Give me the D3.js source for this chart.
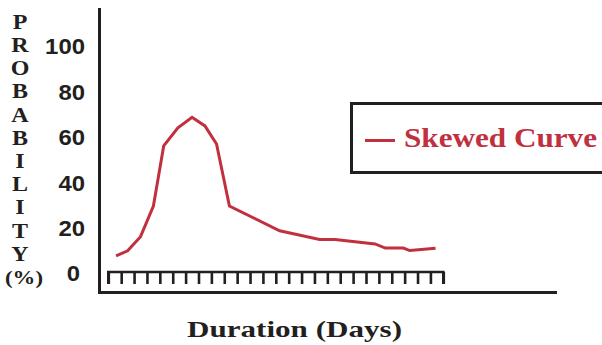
<!DOCTYPE html>
<html>
<head>
<meta charset="utf-8">
<script src="https://cdn.jsdelivr.net/npm/d3@7"></script>
<style>
  html, body { margin: 0; padding: 0; background: #fff; }
  svg { display: block; }
</style>
</head>
<body>
<svg id="chart" width="602" height="345"></svg>
<script>
// ---- data ----
const days = [0.6, 1.5, 2.5, 3.5, 4.3, 5.4, 6.5, 7.5, 8.4, 9.4, 13.3, 16.4, 17.6, 20.7, 21.5, 22.9, 23.4, 25.4];
const probability = [7.5, 9.8, 16, 29.5, 56, 64, 68.6, 64.8, 56.8, 29.5, 18.6, 14.8, 14.8, 12.8, 11, 11, 9.9, 10.9];
const yTicks = [0, 20, 40, 60, 80, 100];
const xTickCount = 27;
const seriesName = "Skewed Curve";
const yTitleLetters = ["P", "R", "O", "B", "A", "B", "I", "L", "I", "T", "Y", "(%)"];
const xTitle = "Duration (Days)";

const red = "#c1303f";
const ink = "#231f20";
const serif = "'Liberation Serif', 'Times New Roman', Times, serif";

const svg = d3.select("#chart");

const x = d3.scaleLinear().domain([0, xTickCount - 1]).range([108.3, 443.3]);
const y = d3.scaleLinear().domain([0, 100]).range([273, 46]);

// outer frame (left + bottom)
svg.append("path")
  .attr("d", "M99.5,8 V292.5 H557")
  .attr("fill", "none").attr("stroke", ink).attr("stroke-width", 3);

// tick bar (day ticks)
const tickBar = svg.append("g").attr("transform", "translate(0,272)");
const xAxis = d3.axisBottom(x).tickValues(d3.range(xTickCount))
  .tickSize(12).tickFormat("");
tickBar.call(xAxis);
tickBar.select(".domain").attr("d", `M${x(0)},12V0H${x(xTickCount - 1)}V12`)
  .attr("stroke", ink).attr("stroke-width", 2.6).attr("fill", "none");
tickBar.selectAll(".tick line").attr("stroke", ink).attr("stroke-width", 2.6);

// y axis labels
const yAxisG = svg.append("g").attr("transform", "translate(85,0)");
yAxisG.call(d3.axisLeft(y).tickValues(yTicks).tickSize(0).tickPadding(0));
yAxisG.select(".domain").remove();
yAxisG.selectAll(".tick text")
  .attr("font-family", "'Liberation Sans', Arial, sans-serif")
  .attr("font-weight", "bold")
  .attr("font-size", 22)
  .attr("fill", ink)
  .attr("dx", d => d === 0 ? -5 : 0)
  .attr("dy", "0.36em")
  .attr("textLength", d => String(d).length * 13.3)
  .attr("lengthAdjust", "spacingAndGlyphs");

// y title, stacked letters (slightly widened like the reference)
svg.append("g").selectAll("text").data(yTitleLetters).join("text")
  .attr("transform", (d, i) => `translate(${i === yTitleLetters.length - 1 ? 24 : 20},${21.7 + i * 23.2}) scale(1.2,1)`)
  .attr("dy", "0.35em")
  .attr("text-anchor", "middle")
  .attr("font-family", serif)
  .attr("font-weight", "bold")
  .attr("font-size", d => d.length > 1 ? 19 : 20)
  .attr("fill", ink)
  .text(d => d);

// x title
svg.append("text")
  .attr("x", 294.5).attr("y", 337)
  .attr("text-anchor", "middle")
  .attr("font-family", serif)
  .attr("font-weight", "bold")
  .attr("font-size", 24)
  .attr("fill", ink)
  .attr("textLength", 215)
  .attr("lengthAdjust", "spacingAndGlyphs")
  .text(xTitle);

// curve
const line = d3.line().x(d => x(d[0])).y(d => y(d[1]));
svg.append("path")
  .datum(days.map((d, i) => [d, probability[i]]))
  .attr("d", line)
  .attr("fill", "none")
  .attr("stroke", red)
  .attr("stroke-width", 3)
  .attr("stroke-linejoin", "miter");

// legend
const lg = svg.append("g");
lg.append("rect")
  .attr("x", 351.5).attr("y", 103.5).attr("width", 260).attr("height", 69)
  .attr("fill", "#fff").attr("stroke", ink).attr("stroke-width", 3);
lg.append("line")
  .attr("x1", 365).attr("x2", 395).attr("y1", 140.5).attr("y2", 140.5)
  .attr("stroke", red).attr("stroke-width", 3);
lg.append("text")
  .attr("x", 404).attr("y", 147)
  .attr("font-family", serif)
  .attr("font-weight", "bold")
  .attr("font-size", 28)
  .attr("fill", red)
  .attr("textLength", 193)
  .attr("lengthAdjust", "spacingAndGlyphs")
  .text(seriesName);
</script>
</body>
</html>
